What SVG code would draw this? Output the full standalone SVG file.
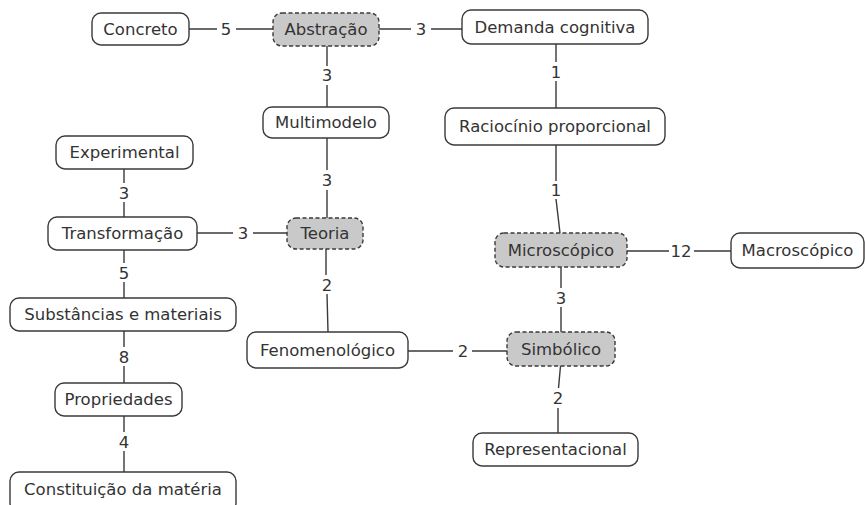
<svg xmlns="http://www.w3.org/2000/svg" width="865" height="505" viewBox="0 0 865 505">
  <style>
    .box { fill: #ffffff; stroke: #3a3a3a; stroke-width: 1.4; }
    .hub { fill: #c9c9c9; stroke: #3a3a3a; stroke-width: 1.4; stroke-dasharray: 4 2.5; }
    .t { font-family: "DejaVu Sans", Verdana, sans-serif; font-size: 16.5px; fill: #333333; text-anchor: middle; }
    .link { stroke: #3a3a3a; stroke-width: 1.4; fill: none; }
  </style>
  <rect width="865" height="505" fill="#ffffff"/>

  <!-- connectors with their weights -->
  <g id="connectors">
    <path class="link" d="M189 29H217M236 29H273"/>
    <text class="t" x="226" y="35">5</text>
    <path class="link" d="M379 29H411M431 29H462"/>
    <text class="t" x="421" y="35">3</text>
    <path class="link" d="M327 46V66M327 85V107"/>
    <text class="t" x="327" y="81">3</text>
    <path class="link" d="M327 138V170M327 190V218"/>
    <text class="t" x="327" y="186">3</text>
    <path class="link" d="M556 44V62M556 81V108"/>
    <text class="t" x="556" y="78">1</text>
    <path class="link" d="M556 145V181M556 199L560 233"/>
    <text class="t" x="556" y="196">1</text>
    <path class="link" d="M124 169V183M124 202V217"/>
    <text class="t" x="124" y="199">3</text>
    <path class="link" d="M197 233H233M253 233H287"/>
    <text class="t" x="243" y="239">3</text>
    <path class="link" d="M124 250V263M124 282V298"/>
    <text class="t" x="124" y="279">5</text>
    <path class="link" d="M326 249V275M327 294L328 332"/>
    <text class="t" x="327" y="291">2</text>
    <path class="link" d="M627 251H669M694 251H731"/>
    <text class="t" x="681" y="257">12</text>
    <path class="link" d="M561 267V288M561 307V332"/>
    <text class="t" x="561" y="304">3</text>
    <path class="link" d="M124 331V347M124 366V383"/>
    <text class="t" x="124" y="363">8</text>
    <path class="link" d="M408 351H453M472 351H507"/>
    <text class="t" x="463" y="357">2</text>
    <path class="link" d="M560.5 366L558.5 388M558 408V433"/>
    <text class="t" x="558" y="404">2</text>
    <path class="link" d="M124 416V432M124 451V472"/>
    <text class="t" x="124" y="448">4</text>
  </g>

  <!-- concept nodes -->
  <g id="concreto"><rect class="box" x="92" y="13" width="97" height="32" rx="9"/><text class="t" x="140.5" y="35">Concreto</text></g>
  <g id="abstracao"><rect class="hub" x="273" y="13" width="106" height="33" rx="9"/><text class="t" x="326" y="35">Abstração</text></g>
  <g id="demanda-cognitiva"><rect class="box" x="462" y="10" width="186" height="34" rx="9"/><text class="t" x="555" y="33">Demanda cognitiva</text></g>
  <g id="multimodelo"><rect class="box" x="263" y="107" width="126" height="31" rx="9"/><text class="t" x="326" y="128">Multimodelo</text></g>
  <g id="raciocinio-proporcional"><rect class="box" x="445" y="108" width="220" height="37" rx="9"/><text class="t" x="555" y="132">Raciocínio proporcional</text></g>
  <g id="experimental"><rect class="box" x="56" y="136" width="137" height="33" rx="9"/><text class="t" x="124.5" y="158">Experimental</text></g>
  <g id="transformacao"><rect class="box" x="48" y="217" width="149" height="33" rx="9"/><text class="t" x="122.5" y="239">Transformação</text></g>
  <g id="teoria"><rect class="hub" x="287" y="218" width="76" height="31" rx="9"/><text class="t" x="325" y="239">Teoria</text></g>
  <g id="microscopico"><rect class="hub" x="495" y="233" width="132" height="34" rx="9"/><text class="t" x="561" y="256">Microscópico</text></g>
  <g id="macroscopico"><rect class="box" x="731" y="233" width="133" height="35" rx="9"/><text class="t" x="797.5" y="256">Macroscópico</text></g>
  <g id="substancias-e-materiais"><rect class="box" x="10" y="298" width="226" height="33" rx="9"/><text class="t" x="123" y="320">Substâncias e materiais</text></g>
  <g id="fenomenologico"><rect class="box" x="247" y="332" width="161" height="36" rx="9"/><text class="t" x="327.5" y="356">Fenomenológico</text></g>
  <g id="simbolico"><rect class="hub" x="507" y="332" width="108" height="34" rx="9"/><text class="t" x="561" y="355">Simbólico</text></g>
  <g id="propriedades"><rect class="box" x="55" y="383" width="127" height="33" rx="9"/><text class="t" x="118.5" y="405">Propriedades</text></g>
  <g id="representacional"><rect class="box" x="473" y="433" width="165" height="33" rx="9"/><text class="t" x="555.5" y="455">Representacional</text></g>
  <g id="constituicao-da-materia"><rect class="box" x="10" y="472" width="226" height="40" rx="9"/><text class="t" x="123" y="495">Constituição da matéria</text></g>
</svg>
